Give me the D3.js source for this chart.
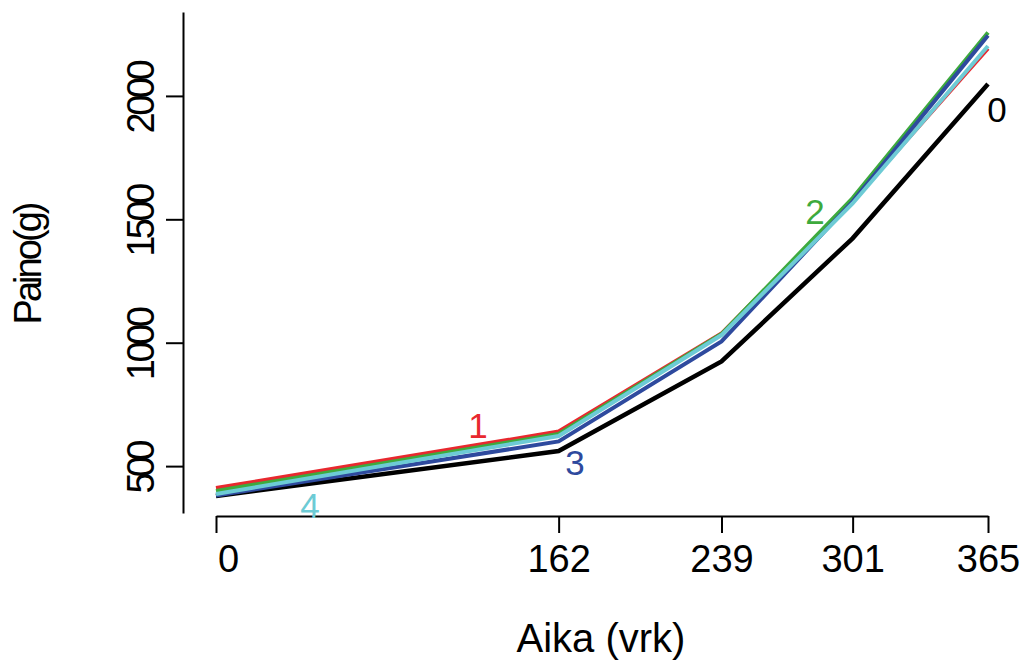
<!DOCTYPE html>
<html>
<head>
<meta charset="utf-8">
<script src="https://cdn.jsdelivr.net/npm/d3@7"></script>
<style>
  html, body { margin: 0; padding: 0; background: #fff; }
  svg { display: block; }
  text { font-family: "Liberation Sans", Arial, sans-serif; }
</style>
</head>
<body>
<svg id="chart" width="1029" height="661"></svg>
<script>
// ---- data ----
const days = [0, 162, 239, 301, 365];
const dayTickLabels = ["0", "162", "239", "301", "365"];
const weightTicks = [500, 1000, 1500, 2000];
const groupNames = ["0", "1", "2", "3", "4"];
const groupColors = ["#000000", "#E8282E", "#3DAA3D", "#2E4A9E", "#6DCBD5"];
const group0 = [379, 561, 924, 1423, 2048];
const group1 = [411, 640, 1037, 1574, 2192];
const group2 = [399, 630, 1035, 1586, 2257];
const group3 = [381, 600, 1005, 1572, 2245];
const group4 = [387, 622, 1031, 1564, 2202];
// label anchor positions in data units (day, weight)
const labelDays = [369.2, 123.9, 283.2, 169.7, 44.4];
const labelWeights = [1943, 664, 1530, 513, 342];
const xTitle = "Aika (vrk)";
const yTitle = "Paino(g)";

const series = [group0, group1, group2, group3, group4];

const svg = d3.select("#chart");
const x = d3.scaleLinear().domain([0, 365]).range([216, 988]);
const y = d3.scaleLinear().domain([310, 2340]).range([513, 12]);

// x axis
const xAxis = svg.append("g")
  .attr("transform", "translate(0,516)")
  .call(d3.axisBottom(x).tickValues(days).tickFormat((d, i) => dayTickLabels[i]).tickSize(17).tickPadding(12).tickSizeOuter(0));
xAxis.select(".domain").attr("stroke", "#000").attr("stroke-width", 2);
xAxis.selectAll(".tick line").attr("stroke", "#000").attr("stroke-width", 2);
xAxis.selectAll(".tick text")
  .attr("font-family", "Liberation Sans, Arial, sans-serif")
  .attr("font-size", 38).attr("fill", "#000")
  .attr("dx", (d, i) => i === 0 ? 12 : 0);

// y axis
const yAxis = svg.append("g")
  .attr("transform", "translate(183,0)")
  .call(d3.axisLeft(y).tickValues(weightTicks).tickSize(17).tickPadding(0).tickSizeOuter(0));
yAxis.select(".domain").attr("stroke", "#000").attr("stroke-width", 2);
yAxis.selectAll(".tick line").attr("stroke", "#000").attr("stroke-width", 2);
yAxis.selectAll(".tick text").remove();
yAxis.selectAll(".tick").append("text")
  .attr("transform", "translate(-29,0) rotate(-90)")
  .attr("text-anchor", "middle")
  .attr("font-size", 38)
  .attr("fill", "#000")
  .attr("textLength", d => String(d).length === 3 ? 54 : 74)
  .attr("lengthAdjust", "spacing")
  .text(d => String(d));

// titles
svg.append("text")
  .attr("x", 601).attr("y", 652)
  .attr("text-anchor", "middle")
  .attr("font-size", 40)
  .attr("fill", "#000")
  .text(xTitle);
svg.append("text")
  .attr("transform", "translate(41,263) rotate(-90)")
  .attr("text-anchor", "middle")
  .attr("font-size", 38)
  .attr("fill", "#000")
  .attr("textLength", 123)
  .attr("lengthAdjust", "spacing")
  .text(yTitle);

// lines
const line = d3.line().x((d, i) => x(days[i])).y(d => y(d));
series.forEach((s, k) => {
  svg.append("path")
    .datum(s)
    .attr("fill", "none")
    .attr("stroke", groupColors[k])
    .attr("stroke-width", k === 0 ? 4.5 : 4)
    .attr("stroke-linejoin", "miter")
    .attr("d", line);
});

// group labels
groupNames.forEach((g, k) => {
  svg.append("text")
    .attr("x", x(labelDays[k]))
    .attr("y", y(labelWeights[k]))
    .attr("text-anchor", "middle")
    .attr("dominant-baseline", "central")
    .attr("font-size", 35)
    .attr("fill", groupColors[k])
    .text(g);
});
</script>
</body>
</html>
